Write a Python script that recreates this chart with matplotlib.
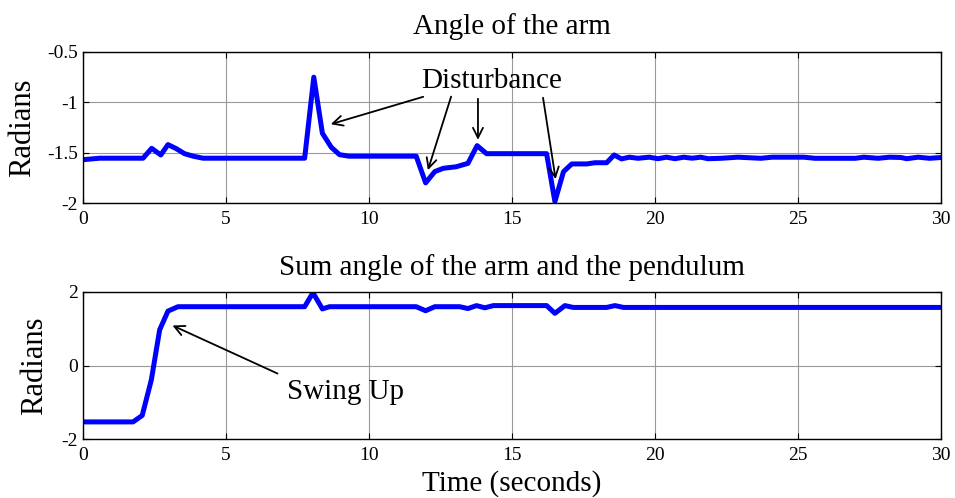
import numpy as np
import matplotlib
matplotlib.use("Agg")
import matplotlib.pyplot as plt

plt.rcParams['font.family'] = ['Liberation Serif', 'DejaVu Serif']
plt.rcParams['axes.unicode_minus'] = False

# arm angle (top plot)
t_arm = [0, 0.58, 2.1, 2.4, 2.72, 2.97, 3.26, 3.55, 3.85, 4.2, 7.75, 8.07, 8.37,
         8.68, 8.97, 9.3, 11.65, 11.98, 12.3, 12.6, 13.05, 13.46, 13.78, 14.11,
         16.21, 16.5, 16.8, 17.09, 17.61, 17.9, 18.31, 18.57, 18.83, 19.1, 19.4,
         19.8, 20.1, 20.4, 20.7, 21.0, 21.3, 21.6, 21.85, 22.3, 22.9, 23.7, 24.1,
         25.2, 25.6, 27.0, 27.3, 27.8, 28.2, 28.6, 28.8, 29.2, 29.6, 30.0]
y_arm = [-1.57, -1.555, -1.555, -1.457, -1.523, -1.42, -1.46, -1.51, -1.535,
         -1.555, -1.555, -0.75, -1.307, -1.446, -1.52, -1.535, -1.535, -1.80,
         -1.688, -1.655, -1.64, -1.606, -1.43, -1.51, -1.51, -1.986, -1.689,
         -1.612, -1.612, -1.60, -1.60, -1.523, -1.562, -1.545, -1.556, -1.545,
         -1.56, -1.545, -1.56, -1.545, -1.555, -1.545, -1.56, -1.556, -1.545,
         -1.556, -1.545, -1.545, -1.556, -1.556, -1.545, -1.556, -1.545, -1.548,
         -1.56, -1.545, -1.556, -1.548]

# sum angle (bottom plot)
t_sum = [0, 1.75, 2.07, 2.39, 2.68, 2.97, 3.32, 7.75, 8.04, 8.37, 8.62, 11.65,
         11.98, 12.3, 13.17, 13.46, 13.76, 14.05, 14.35, 16.21, 16.5, 16.85,
         17.14, 18.31, 18.6, 18.9, 30.0]
y_sum = [-1.535, -1.535, -1.36, -0.39, 0.97, 1.48, 1.6, 1.6, 1.98, 1.54, 1.6,
         1.6, 1.49, 1.6, 1.6, 1.55, 1.63, 1.57, 1.63, 1.63, 1.42, 1.63, 1.58,
         1.58, 1.63, 1.58, 1.58]

# annotation arrows: tails near the text, tips on the curve
dist_tips = [(8.57, -1.225), (12.03, -1.70), (13.81, -1.40), (16.54, -1.79)]
dist_tails = [(11.99, -0.937), (12.9, -0.917), (13.81, -0.937), (16.07, -0.927)]

fig = plt.figure(figsize=(9.55, 4.98), dpi=100)
ax1 = fig.add_axes([83/955, 1-203/498, 858/955, 151/498])
ax2 = fig.add_axes([83/955, 1-439/498, 858/955, 147/498])

for ax in (ax1, ax2):
    ax.set_xlim(0, 30)
    ax.set_xticks(range(0, 31, 5))
    ax.grid(True, color='#999999', lw=0.8)
    ax.tick_params(direction='in', top=True, right=True, labelsize=14, length=4)
    ax.tick_params(axis='x', pad=6)
    for s in ax.spines.values():
        s.set_linewidth(1.0)
    ax.set_ylabel('Radians', fontsize=22)

ax1.plot(t_arm, y_arm, color='#0000ff', lw=3.6)
ax1.set_ylim(-2, -0.5)
ax1.set_yticks([-2, -1.5, -1, -0.5])
ax1.set_yticklabels(['-2', '-1.5', '-1', '-0.5'])
ax1.set_title('Angle of the arm', fontsize=21, pad=13)
ax1.yaxis.set_label_coords(-0.053, 0.5)
ax1.text(14.3, -0.79, 'Disturbance', fontsize=21, ha='center', va='center')
for tail, tip in zip(dist_tails, dist_tips):
    ax1.annotate('', xy=tip, xytext=tail,
                 arrowprops=dict(arrowstyle='->', color='black', lw=1.3,
                                 mutation_scale=18))

ax2.plot(t_sum, y_sum, color='#0000ff', lw=3.6)
ax2.set_ylim(-2, 2)
ax2.set_yticks([-2, 0, 2])
ax2.set_title('Sum angle of the arm and the pendulum', fontsize=21, pad=12)
ax2.yaxis.set_label_coords(-0.039, 0.5)
ax2.set_xlabel('Time (seconds)', fontsize=21, labelpad=4)
ax2.text(7.13, -0.71, 'Swing Up', fontsize=21, ha='left', va='center')
ax2.annotate('', xy=(3.04, 1.12), xytext=(6.89, -0.25),
             arrowprops=dict(arrowstyle='->', color='black', lw=1.3,
                             mutation_scale=18))

fig.savefig('out.png', dpi=100)
